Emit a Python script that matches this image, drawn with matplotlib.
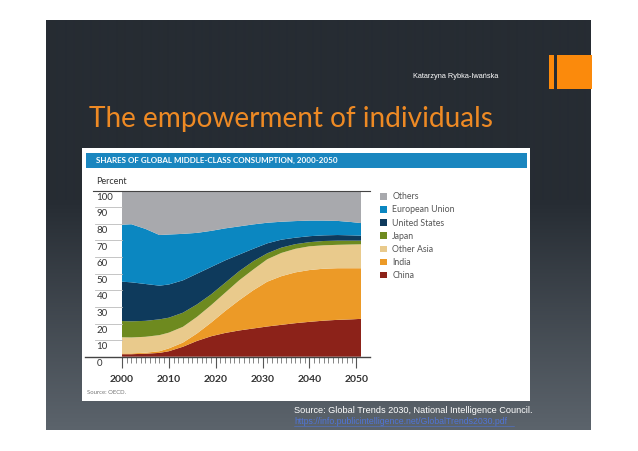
import numpy as np
import matplotlib
matplotlib.use("Agg")
import matplotlib.pyplot as plt
from matplotlib.lines import Line2D
from matplotlib.patches import Rectangle
from matplotlib.transforms import blended_transform_factory, ScaledTranslation

# ---------------- data (shares of global middle-class consumption, %) ----------------
years = [2000, 2002, 2005, 2008, 2010, 2013, 2016, 2019, 2022, 2025, 2028,
         2031, 2034, 2037, 2040, 2043, 2046, 2049, 2051]
china      = [1.5, 1.5, 1.8, 2.3, 3.3, 6.0, 9.5, 12.3, 14.3, 15.8, 17.0,
              18.2, 19.2, 20.2, 21.0, 21.7, 22.2, 22.5, 22.8]
india      = [0.5, 0.5, 0.6, 1.0, 1.7, 2.5, 4.5, 8.2, 13.2, 18.2, 23.0,
              27.0, 29.3, 30.6, 31.2, 31.3, 31.1, 30.8, 30.5]
other_asia = [9.7, 9.6, 9.6, 9.7, 9.5, 9.5, 10.0, 10.5, 11.0, 12.0, 12.5,
              13.5, 14.0, 14.2, 14.3, 14.1, 14.1, 14.3, 14.4]
japan      = [9.8, 9.7, 9.6, 9.5, 9.0, 8.5, 7.5, 6.5, 6.0, 5.5, 5.0,
              3.6, 3.2, 2.8, 2.5, 2.6, 2.5, 2.3, 2.2]
us         = [23.7, 23.5, 22.2, 20.3, 20.0, 19.5, 18.5, 16.5, 13.5, 10.0, 7.5,
              6.0, 4.8, 3.9, 3.6, 3.4, 3.4, 3.2, 3.0]
eu         = [34.3, 35.0, 33.2, 30.5, 30.1, 28.0, 24.6, 21.8, 19.3, 17.0, 14.7,
              12.4, 10.8, 10.0, 9.4, 8.9, 8.5, 8.0, 7.6]
others     = [20.5, 20.2, 23.0, 26.7, 26.4, 26.0, 25.4, 24.2, 22.7, 21.5, 20.3,
              19.3, 18.7, 18.3, 18.0, 18.0, 18.2, 18.9, 19.5]

series_labels = ["China", "India", "Other Asia", "Japan", "United States",
                 "European Union", "Others"]
series_colors = ["#8c2219", "#ec9a27", "#e9ca8c", "#6e8a1f", "#0e3a5c",
                 "#0b87c1", "#a8a9ad"]
x_ticks = [2000, 2010, 2020, 2030, 2040, 2050]
y_ticks = [0, 10, 20, 30, 40, 50, 60, 70, 80, 90, 100]

# ---------------- figure geometry ----------------
W, H = 638, 451
fig = plt.figure(figsize=(W / 100, H / 100), dpi=100)
fig.patch.set_facecolor("white")

def fx(x):
    return x / W

def fy(y):
    return 1 - y / H

# slide background with gradient
sl, st, sr, sb = 46, 20, 591, 430
ax_bg = fig.add_axes([fx(sl), fy(sb), fx(sr - sl), (sb - st) / H], zorder=0)
top_c = np.array([38, 44, 51]) / 255
bot_c = np.array([92, 100, 108]) / 255
rows = np.arange(st, sb)
frac = np.clip((rows - 200) / (sb - 200), 0, 1)
grad = top_c[None, :] * (1 - frac[:, None]) + bot_c[None, :] * frac[:, None]
ax_bg.imshow(grad[:, None, :], aspect="auto", extent=[0, 1, 0, 1], interpolation="bilinear")
ax_bg.set_axis_off()

# orange decoration
fig.patches.append(Rectangle((fx(549), fy(89)), fx(5), 34 / H, transform=fig.transFigure,
                             facecolor="#fb8a0c", edgecolor="none", zorder=1))
fig.patches.append(Rectangle((fx(557), fy(89)), fx(34.5), 34 / H, transform=fig.transFigure,
                             facecolor="#fb8a0c", edgecolor="none", zorder=1))

fig.text(fx(498), fy(77), "Katarzyna Rybka-Iwańska", color="white", fontsize=5.3,
         family="Liberation Sans", ha="right", va="center")
fig.text(fx(89), fy(127), "The empowerment of individuals", color="#ee8a24",
         fontsize=20.2, family="Lato", ha="left", va="baseline")

# white chart box and blue header
fig.patches.append(Rectangle((fx(82), fy(401)), fx(448), 253 / H, transform=fig.transFigure,
                             facecolor="white", edgecolor="none", zorder=1))
fig.patches.append(Rectangle((fx(86), fy(168)), fx(441), 15 / H, transform=fig.transFigure,
                             facecolor="#1a86bf", edgecolor="none", zorder=1.5))
fig.text(fx(96), fy(160.5), "SHARES OF GLOBAL MIDDLE-CLASS CONSUMPTION, 2000-2050",
         color="white", fontsize=5.8, fontweight="bold", family="Lato",
         ha="left", va="center")
fig.text(fx(96), fy(181), "Percent", color="#333333", fontsize=6.5, family="Lato",
         ha="left", va="center")

# ---------------- main plot ----------------
x0, x1 = 122, 361
y100, y0 = 190.7, 356.7
ax = fig.add_axes([fx(x0), fy(y0), fx(x1 - x0), (y0 - y100) / H], zorder=2)
ax.patch.set_alpha(0)
ax.stackplot(years, china, india, other_asia, japan, us, eu, others,
             colors=series_colors, labels=series_labels, linewidth=0)
ax.set_xlim(2000, 2051)
ax.set_ylim(0, 100)
for s in ax.spines.values():
    s.set_visible(False)
ax.set_yticks([])
ax.set_xticks(x_ticks)
ax.set_xticks(range(2000, 2051), minor=True)
ax.set_xticklabels([str(t) for t in x_ticks], fontsize=7.5, color="#333333",
                   family="Lato", fontweight="bold")
ax.tick_params(axis="x", which="major", length=8, width=0.8, color="#555555", pad=5,
               direction="out")
ax.tick_params(axis="x", which="minor", length=4.3, width=0.5, color="#555555",
               direction="out")

# y-axis gutter lines and labels, placed through data y-scale
btr = blended_transform_factory(fig.transFigure, ax.transData)
lab_tr = btr + ScaledTranslation(0, -1.5 / 72, fig.dpi_scale_trans)
for v in y_ticks:
    if v == 100:
        xa, xb, col, lw = 93, 370, "#444444", 0.8
    elif v == 0:
        xa, xb, col, lw = 85, 370, "#444444", 1.0
    else:
        xa, xb, col, lw = 95, 122, "#bbbbbb", 0.6
    fig.add_artist(Line2D([fx(xa), fx(xb)], [v, v], transform=btr, color=col,
                          linewidth=lw, zorder=3, clip_on=False))
    ax.text(fx(96.5), v, str(v), transform=lab_tr, fontsize=7, color="#333333",
            family="Lato", ha="left", va="top", clip_on=False)

fig.text(fx(87), fy(393), "Source: OECD.", color="#777777", fontsize=4.3, family="Lato",
         ha="left", va="center")

# legend
handles, labels = ax.get_legend_handles_labels()
leg = fig.legend(handles[::-1], labels[::-1], loc="upper left",
                 bbox_to_anchor=(fx(376), fy(188)), frameon=False,
                 handlelength=0.75, handleheight=0.75,
                 handletextpad=0.6, labelspacing=0.47, borderpad=0,
                 prop={"family": "Lato", "size": 6.3})
for t in leg.get_texts():
    t.set_color("#555555")
leg.set_zorder(3)

# bottom source text
fig.text(fx(294), fy(410.5), "Source: Global Trends 2030, National Intelligence Council.",
         color="white", fontsize=6.6, family="Liberation Sans", ha="left", va="center")
fig.text(fx(294), fy(422), "https://info.publicintelligence.net/GlobalTrends2030.pdf",
         color="#4f74d6", fontsize=6.3, family="Liberation Sans", ha="left", va="center")
fig.add_artist(Line2D([fx(294), fx(514)], [fy(425.8), fy(425.8)], transform=fig.transFigure,
                      color="#4f74d6", linewidth=0.4, zorder=3))

fig.savefig("out.png", dpi=100, facecolor="white")
